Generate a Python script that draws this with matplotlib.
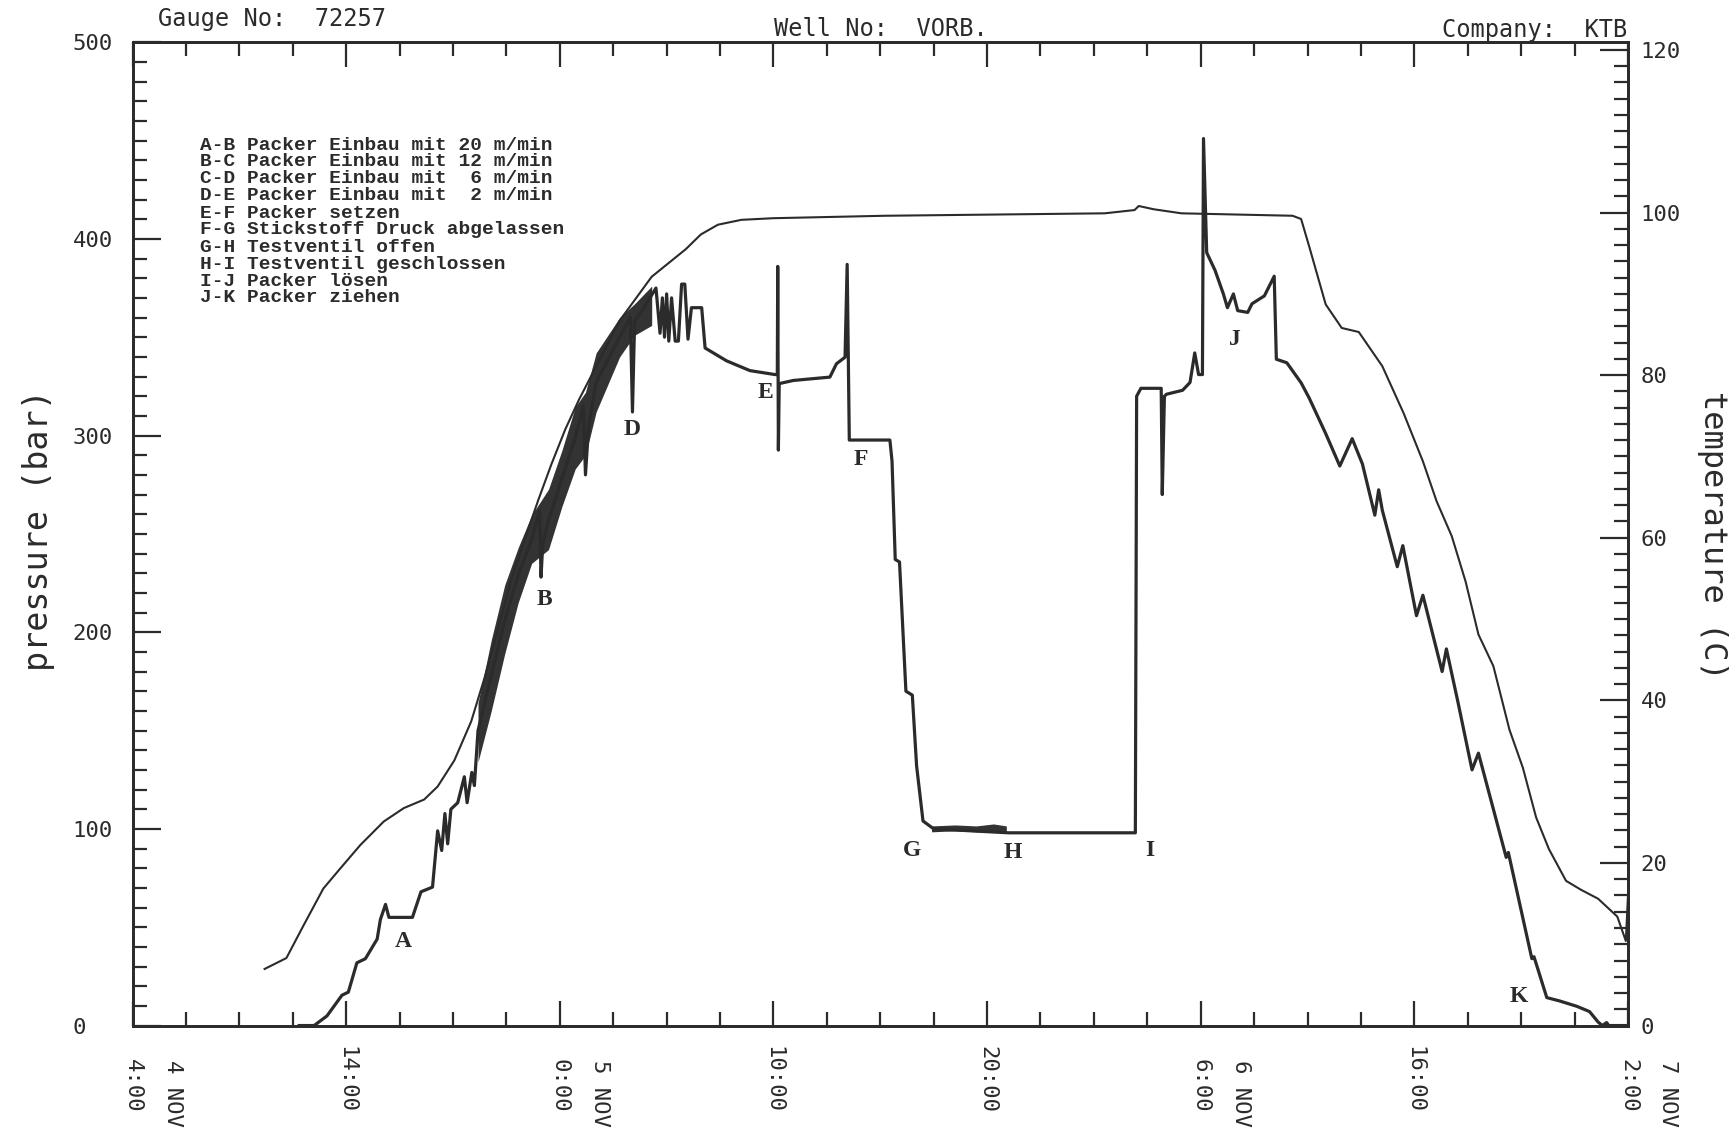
import matplotlib
matplotlib.use("Agg")
import matplotlib.pyplot as plt
import matplotlib.transforms as mtransforms
from matplotlib.ticker import MultipleLocator

# hours since 4 NOV 4:00
press_t = [7.8, 8.5, 9.1, 9.8, 10.1, 10.5, 10.9, 11.45, 11.6, 11.84, 12.0, 13.1, 13.5, 14.04,
           14.28, 14.47, 14.62, 14.75, 14.9, 15.22, 15.53, 15.66, 15.88, 16.0, 16.17, 16.79,
           17.42, 18.05, 18.68, 19.05, 19.12, 19.2, 19.47, 20.1, 20.72, 21.1, 21.2, 21.35, 21.7,
           22.8, 23.3, 23.4, 23.5, 24.0, 24.5, 24.69, 24.8, 24.9, 25.0, 25.1, 25.23, 25.4, 25.55,
           25.7, 25.85, 26.0, 26.16, 26.64, 26.8, 27.8, 28.9, 30.07, 30.18, 30.2, 30.23, 30.27,
           30.93, 32.64, 32.95, 33.35, 33.45, 33.55, 35.45, 35.55, 35.7, 35.9, 36.2, 36.5, 36.7,
           37.0, 37.5, 41.0, 46.94, 47.0, 47.2, 48.15, 48.2, 48.3, 48.4, 49.15, 49.5, 49.72, 49.9,
           50.08, 50.13, 50.28, 50.67, 51.06, 51.25, 51.53, 51.73, 52.2, 52.4, 52.98, 53.44,
           53.54, 54.03, 54.7, 55.08, 55.85, 56.51, 57.09, 57.57, 58.15, 58.33, 58.5, 59.2,
           59.46, 60.1, 60.4, 61.3, 61.5, 62.05, 62.7, 63.0, 64.3, 64.4, 65.5, 65.6, 66.2, 66.8,
           67.6, 68.2, 68.6, 68.8, 69.0, 69.1, 70.0]
press_p = [0, 0, 4.9, 15.4, 17, 31.9, 34, 44, 53.9, 61.6, 55, 55, 68, 70.4,
           99, 89, 107.8, 92.4, 110, 113.3, 126.5, 113.3, 128.7, 122, 150, 178,
           206, 229, 247, 262, 228, 245, 257, 278, 299, 315, 280, 305, 327,
           350, 360, 312, 358, 366, 375, 352, 370, 350, 372, 348, 370, 348, 348,
           377, 377, 349, 365, 365, 344.5, 338, 333, 331, 331, 386, 292.6, 326.4,
           328, 329.7, 336.5, 339.8, 387, 297.7, 297.7, 287, 237, 235.7, 170, 168, 132,
           104, 100, 98, 98, 320, 324, 324, 270, 320, 321, 323, 327, 342, 331,
           331, 451, 393, 384, 372, 365, 372, 363.5, 362.6, 367, 371, 381,
           338.8, 337, 326.8, 319, 301, 284.5, 298.4, 285.5, 259.5, 272.4, 262, 233.3,
           244, 208.4, 218.8, 180, 191.5, 164, 130, 138.5, 85.5, 88, 34, 35, 14.2, 12.5,
           9.8, 7.1, 1.8, 0, 1.5, 0, 0]

# dense oscillation band while running in (A-D)
band_t = [16.17, 16.79, 17.42, 18.05, 18.68, 19.47, 20.1, 20.72, 21.2, 21.7, 22.8, 23.5, 24.3]
band_lo = [134, 160, 189, 215, 235, 242, 264, 283, 290, 312, 340, 351, 356]
band_hi = [164, 196, 224, 243, 259.5, 272.7, 292.5, 314.5, 322, 342, 360, 367, 376]

# noisy stretch G-H
gh_t = [37.4, 38.5, 39.5, 40.3, 40.9]
gh_lo = [98.5, 99, 98.5, 99, 98.5]
gh_hi = [101.5, 102, 101.5, 102.5, 101.5]

temp_t = [6.18, 7.2, 8.0, 8.93, 9.7, 10.66, 11.76, 12.7, 13.65, 14.28, 15.06, 15.85, 16.48,
          17.1, 17.7, 18.37, 19.0, 19.6, 20.25, 20.9, 22.8, 24.3, 25.9, 26.6, 27.4, 28.5, 30,
          35.2, 45.5, 46.9, 47.1, 47.8, 49.1, 54.3, 54.7, 55.08, 55.85, 56.6, 57.4, 58.5, 59.5,
          60.4, 61.04, 61.75, 62.4, 63.0, 63.7, 64.45, 65.08, 65.7, 66.3, 67.1, 67.8, 68.6,
          69.5, 69.9, 70]
temp_c = [6.96, 8.3, 12.3, 16.85, 19.25, 22.2, 25.1, 26.75, 27.8, 29.4, 32.6, 37.4, 42.8,
          48.7, 54.6, 59.9, 64.7, 69.0, 73.3, 77.0, 86.7, 92.1, 95.5, 97.3, 98.5, 99.1, 99.3,
          99.6, 99.9, 100.3, 100.8, 100.4, 99.9, 99.6, 99.2, 95.8, 88.7, 85.8, 85.3, 81.1,
          75.3, 69.4, 64.5, 60.2, 54.6, 48.1, 44.2, 36.4, 31.7, 25.6, 21.7, 17.8, 16.7, 15.6,
          13.4, 10.4, 16]

point_labels = ["A", "B", "D", "E", "F", "G", "H", "I", "J", "K"]
point_t = [12.67, 19.3, 23.4, 29.64, 34.1, 36.5, 41.2, 47.6, 51.6, 64.9]
point_p = [42.5, 216.8, 303, 321.8, 288, 89, 88, 89, 349, 15]

legend_lines = [
    "A-B Packer Einbau mit 20 m/min",
    "B-C Packer Einbau mit 12 m/min",
    "C-D Packer Einbau mit  6 m/min",
    "D-E Packer Einbau mit  2 m/min",
    "E-F Packer setzen",
    "F-G Stickstoff Druck abgelassen",
    "G-H Testventil offen",
    "H-I Testventil geschlossen",
    "I-J Packer lösen",
    "J-K Packer ziehen",
]

time_ticks = [0, 10, 20, 30, 40, 50, 60, 70]
time_labels = ["4:00", "14:00", "0:00", "10:00", "20:00", "6:00", "16:00", "2:00"]
date_ticks = [0, 20, 50, 70]
date_labels = ["4 NOV", "5 NOV", "6 NOV", "7 NOV"]

ink = "#2b2b2b"
mono = "DejaVu Sans Mono"

fig = plt.figure(figsize=(17.33, 11.40), dpi=100)
ax = fig.add_axes([0.0765, 0.1004, 0.8629, 0.8626])

ax.fill_between(band_t, band_lo, band_hi, color="#333333", linewidth=0)
ax.fill_between(gh_t, gh_lo, gh_hi, color="#333333", linewidth=0)
ax.plot(press_t, press_p, color=ink, lw=2.3)

ax.set_xlim(0, 70)
ax.set_ylim(0, 500)
ax.set_xticks(time_ticks)
ax.xaxis.set_minor_locator(MultipleLocator(2.5))
ax.set_yticks(range(0, 501, 100))
ax.yaxis.set_minor_locator(MultipleLocator(10))
ax.tick_params(axis="x", which="major", direction="in", length=18, width=1.6,
               top=True, bottom=True, labelbottom=False, color=ink)
ax.tick_params(axis="x", which="minor", direction="in", length=10, width=1.6,
               top=True, bottom=True, color=ink)
ax.tick_params(axis="y", which="major", direction="in", length=20, width=1.6,
               pad=43, labelsize=16, labelcolor=ink, color=ink)
ax.tick_params(axis="y", which="minor", direction="in", length=10, width=1.6, color=ink)
for lbl in ax.get_yticklabels():
    lbl.set_horizontalalignment("left")
    lbl.set_fontfamily(mono)

for sp in ax.spines.values():
    sp.set_linewidth(2)
    sp.set_color(ink)

ax2 = ax.twinx()
ax2.plot(temp_t, temp_c, color=ink, lw=1.5)
ax2.set_ylim(0, 120.95)
ax2.set_yticks(range(0, 121, 20))
ax2.yaxis.set_minor_locator(MultipleLocator(2))
ax2.tick_params(axis="y", which="major", direction="in", length=20, width=1.6,
                pad=9, labelsize=16, labelcolor=ink, color=ink)
ax2.tick_params(axis="y", which="minor", direction="in", length=10, width=1.6, color=ink)
for lbl in ax2.get_yticklabels():
    lbl.set_fontfamily(mono)
for sp in ax2.spines.values():
    sp.set_linewidth(2)
    sp.set_color(ink)

# rotated time / date labels under the axis
tr = mtransforms.blended_transform_factory(ax.transData, ax.transAxes)
tr_date = mtransforms.offset_copy(tr, fig=fig, x=40, y=0, units="dots")
for t, s in zip(time_ticks, time_labels):
    ax.text(t, -0.0884, s, transform=tr, rotation=270, ha="center", va="bottom",
            fontsize=16, family=mono, color=ink)
for t, s in zip(date_ticks, date_labels):
    ax.text(t, -0.0348, s, transform=tr_date, rotation=270, ha="center", va="top",
            fontsize=16, family=mono, color=ink)

for s, t, p in zip(point_labels, point_t, point_p):
    ax.text(t, p, s, ha="center", va="center", fontsize=17, family="Liberation Serif",
            fontweight="bold", color=ink)

for i, line in enumerate(legend_lines):
    fig.text(0.1152, 1 - (145 + 17 * i) / 1140, line, ha="left", va="center",
             fontsize=14, family="Liberation Mono", fontweight="bold", color=ink)

fig.text(0.0912, 0.983, "Gauge No:  72257", ha="left", va="center", fontsize=17,
         family=mono, color=ink)
fig.text(0.4465, 0.975, "Well No:  VORB.", ha="left", va="center", fontsize=17,
         family=mono, color=ink)
fig.text(0.939, 0.974, "Company:  KTB", ha="right", va="center", fontsize=17,
         family=mono, color=ink)

fig.text(0.0225, 0.535, "pressure (bar)", rotation=90, ha="center", va="center",
         fontsize=24, family=mono, color=ink)
fig.text(0.988, 0.53, "temperature (C)", rotation=270, ha="center", va="center",
         fontsize=23, family=mono, color=ink)

fig.savefig("out.png", dpi=100, facecolor="white")
